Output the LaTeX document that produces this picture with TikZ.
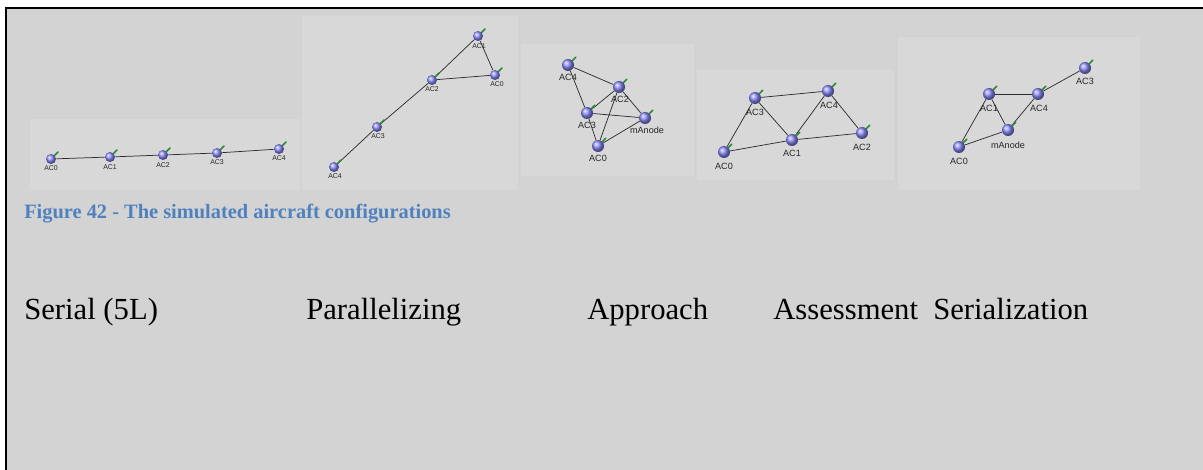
\documentclass[tikz,border=0pt]{standalone}
\usepackage{fontspec}
\setmainfont{Liberation Serif}
\newfontfamily\uisans{Liberation Sans}
\definecolor{bggray}{RGB}{211,211,211}
\definecolor{panelgray}{RGB}{216,216,216}
\definecolor{capblue}{RGB}{79,129,189}
\definecolor{nodeblue}{RGB}{140,140,255}
\definecolor{tickgreen}{RGB}{40,140,50}
\definecolor{edgegray}{RGB}{45,45,45}
\begin{document}
\begin{tikzpicture}[x=0.75pt,y=-0.75pt,
  panel/.style={fill=panelgray, draw=none},
  acs/.style={circle, minimum size=7.5pt, inner sep=0pt, shading=ball, ball color=nodeblue},
  acl/.style={circle, minimum size=9pt, inner sep=0pt, shading=ball, ball color=nodeblue},
  lbls/.style={inner sep=0pt, font=\uisans\fontsize{5.2}{6}\selectfont, text=black!85},
  lbll/.style={inner sep=0pt, font=\uisans\fontsize{6.8}{8}\selectfont, text=black!85},
  link/.style={draw=edgegray, line width=0.55pt},
  tick/.style={draw=tickgreen, line width=1.1pt, line cap=round},
  caption/.style={anchor=base west, inner sep=0pt, font=\bfseries\fontsize{15.3}{18}\selectfont, text=capblue},
  conf/.style={anchor=base west, inner sep=0pt, font=\fontsize{23}{27}\selectfont}]
\useasboundingbox (0,0) rectangle (1203,470);
\fill[white] (0,0) rectangle (1203,470);
\fill[bggray] (6,8) rectangle (1203,470);
\draw[black, line width=1.8pt] (6,470) -- (6,8) -- (1203,8);
% panels
\fill[panel] (30,119) rectangle (300,190);
\fill[panel] (302,16) rectangle (518,190);
\fill[panel] (521,44) rectangle (694,176);
\fill[panel] (697,70) rectangle (894,180);
\fill[panel] (898,37) rectangle (1140,190);
% panel 1
\node[acs] (a0) at (51,159) {};
\node[acs] (a1) at (110,157) {};
\node[acs] (a2) at (163,155) {};
\node[acs] (a3) at (217,153) {};
\node[acs] (a4) at (279,149) {};
\node[lbls] (la0) at (51,168) {AC0};
\node[lbls] (la1) at (110,167) {AC1};
\node[lbls] (la2) at (163,165) {AC2};
\node[lbls] (la3) at (217,162) {AC3};
\node[lbls] (la4) at (279,158) {AC4};
\draw[link] (a0) -- (a1) -- (a2) -- (a3) -- (a4);
% panel 2
\node[acs] (b1) at (478,36) {};
\node[acs] (b0) at (495,75) {};
\node[acs] (b2) at (432,80) {};
\node[acs] (b3) at (377,127) {};
\node[acs] (b4) at (334,167) {};
\node[lbls] (lb1) at (479,46) {AC1};
\node[lbls] (lb0) at (497,84) {AC0};
\node[lbls] (lb2) at (432,89) {AC2};
\node[lbls] (lb3) at (378,136) {AC3};
\node[lbls] (lb4) at (335,176) {AC4};
\draw[link] (b1) -- (b0);
\draw[link] (b0) -- (b2);
\draw[link] (b2) -- (b1);
\draw[link] (b2) -- (b3);
\draw[link] (b3) -- (b4);
% panel 3
\node[acl] (c4) at (568,65) {};
\node[acl] (c2) at (619,87) {};
\node[acl] (c3) at (587,113) {};
\node[acl] (cm) at (645,118) {};
\node[acl] (c0) at (598,146) {};
\node[lbll] (lc4) at (568,77) {AC4};
\node[lbll] (lc2) at (620,99) {AC2};
\node[lbll] (lc3) at (587,125) {AC3};
\node[lbll] (lcm) at (647,130) {mAnode};
\node[lbll] (lc0) at (598,158) {AC0};
\draw[link] (c4) -- (c2);
\draw[link] (c4) -- (c3);
\draw[link] (c2) -- (c3);
\draw[link] (c2) -- (cm);
\draw[link] (c3) -- (cm);
\draw[link] (c3) -- (c0);
\draw[link] (c2) -- (c0);
\draw[link] (cm) -- (c0);
% panel 4
\node[acl] (d3) at (755,98) {};
\node[acl] (d4) at (828,91) {};
\node[acl] (d1) at (792,140) {};
\node[acl] (d2) at (862,133) {};
\node[acl] (d0) at (724,152) {};
\node[lbll] (ld3) at (755,112) {AC3};
\node[lbll] (ld4) at (829,105) {AC4};
\node[lbll] (ld1) at (792,153) {AC1};
\node[lbll] (ld2) at (862,147) {AC2};
\node[lbll] (ld0) at (724,166) {AC0};
\draw[link] (d3) -- (d4);
\draw[link] (d3) -- (d0);
\draw[link] (d3) -- (d1);
\draw[link] (d4) -- (d1);
\draw[link] (d4) -- (d2);
\draw[link] (d0) -- (d1);
\draw[link] (d1) -- (d2);
% panel 5
\node[acl] (e3) at (1085,68) {};
\node[acl] (e1) at (989,94) {};
\node[acl] (e4) at (1038,94) {};
\node[acl] (em) at (1008,130) {};
\node[acl] (e0) at (959,147) {};
\node[lbll] (le3) at (1085,81) {AC3};
\node[lbll] (le1) at (989,108) {AC1};
\node[lbll] (le4) at (1039,108) {AC4};
\node[lbll] (lem) at (1008,145) {mAnode};
\node[lbll] (le0) at (959,161) {AC0};
\draw[link] (e1) -- (e4);
\draw[link] (e4) -- (e3);
\draw[link] (e1) -- (e0);
\draw[link] (e1) -- (em);
\draw[link] (e4) -- (em);
\draw[link] (e0) -- (em);
% green markers
\foreach \n in {a0,a1,a2,a3,a4,b0,b1,b2,b3,b4,c0,c2,c3,c4,cm,d0,d1,d2,d3,d4,e0,e1,e3,e4,em}
  \draw[tick] (\n.45) -- ++(3.5,-3.5);
% captions
\node[caption] (cap) at (24,219) {Figure 42 - The simulated aircraft configurations};
\node[conf] (t1) at (24,320) {Serial (5L)};
\node[conf] (t2) at (306,320) {Parallelizing};
\node[conf] (t3) at (587,320) {Approach};
\node[conf] (t4) at (773,320) {Assessment};
\node[conf] (t5) at (933,320) {Serialization};
\end{tikzpicture}
\end{document}
